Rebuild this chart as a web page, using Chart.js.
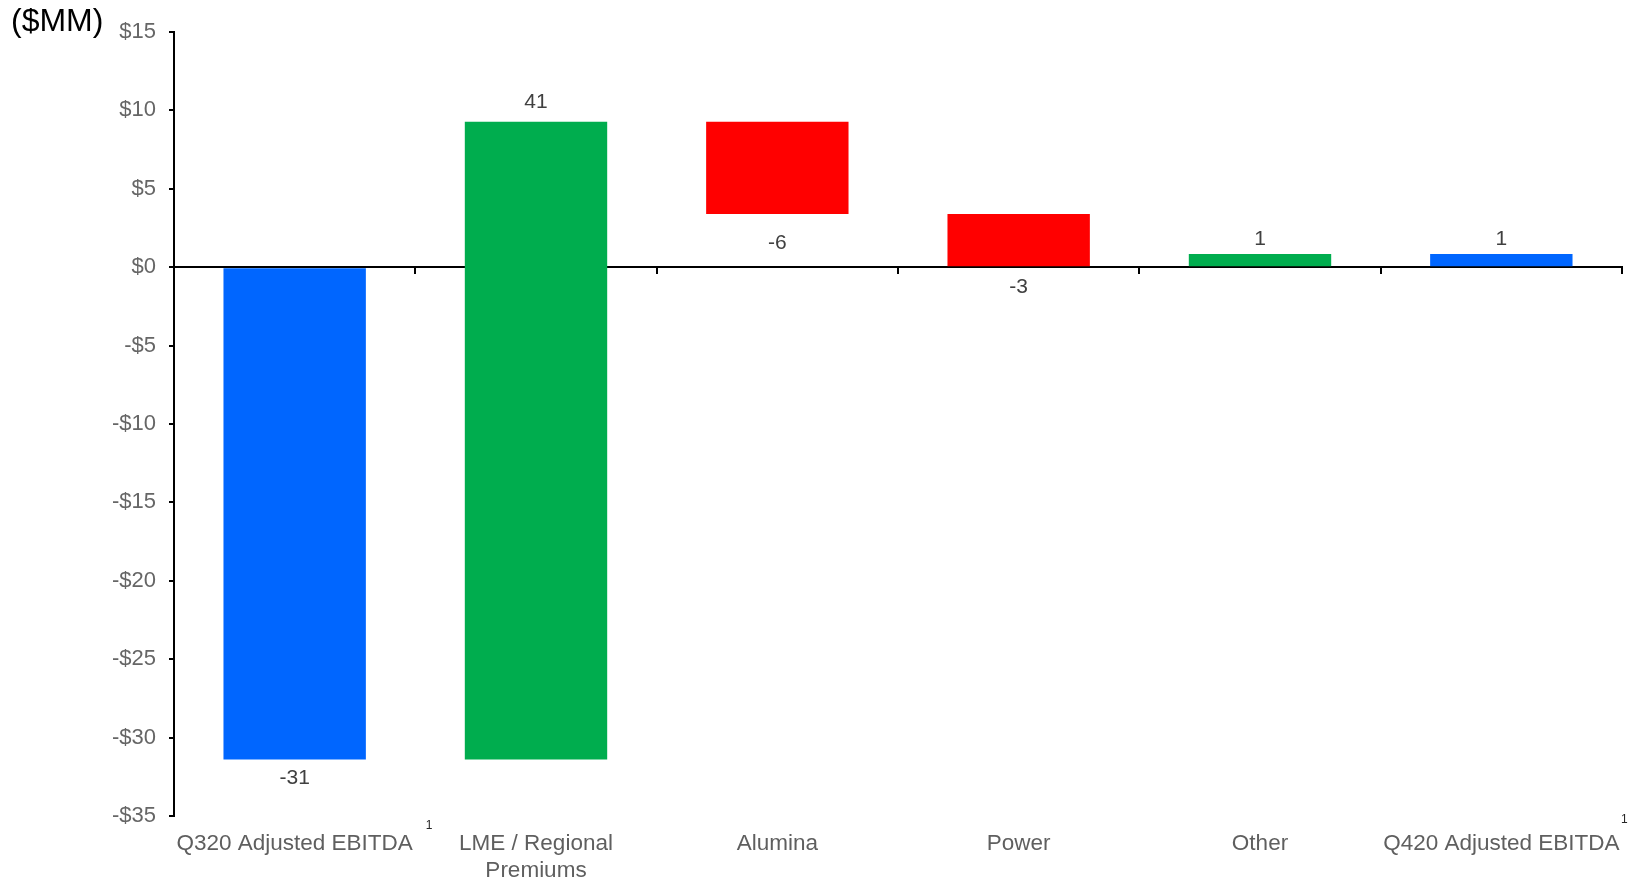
<!DOCTYPE html>
<html>
<head>
<meta charset="utf-8">
<script src="https://cdn.jsdelivr.net/npm/chart.js@4"></script>
<style>
	html, body { margin: 0; padding: 0; background: #fff; }
	#wrap { width: 1630px; height: 879px; position: relative; }
</style>
</head>
<body>
<div id="wrap"><canvas id="bridge"></canvas></div>
<script>
// ---- data
const categories = [
	'Q320 Adjusted EBITDA',
	[ 'LME / Regional', 'Premiums' ],
	'Alumina',
	'Power',
	'Other',
	'Q420 Adjusted EBITDA'
];
const barLow = [ -31.4, -31.4, 3.4, 0, 0, 0 ];
const barHigh = [ 0, 9.27, 9.27, 3.4, 0.84, 0.84 ];
const valueText = [ '-31', '41', '-6', '-3', '1', '1' ];
const footnotes = [ '1', '', '', '', '', '1' ];
const barColors = [ '#0066FF', '#00AD4E', '#FF0000', '#FF0000', '#00AD4E', '#0066FF' ];
const yTicks = { min: -35, max: 15, step: 5 };

const FONT = "'Liberation Sans', Arial, sans-serif";

// ---- value labels, footnote marks and the unit caption
const annotations = {
	id: 'annotations',
	afterDatasetsDraw( chart, args, opts ) {
		const ctx = chart.ctx;
		const y = chart.scales.y;
		const x = chart.scales.x;
		ctx.save();
		ctx.font = '21px ' + FONT;
		ctx.fillStyle = '#404040';
		ctx.textAlign = 'center';
		ctx.textBaseline = 'middle';
		valueText.forEach( ( txt, i ) => {
			const cx = x.getPixelForValue( i );
			const gap = opts.gaps[ i ];
			if ( txt.startsWith( '-' ) ) {
				ctx.fillText( txt, cx, y.getPixelForValue( barLow[ i ] ) + gap );
			} else {
				ctx.fillText( txt, cx, y.getPixelForValue( barHigh[ i ] ) - gap );
			}
		} );
		ctx.restore();
	},
	afterDraw( chart ) {
		const ctx = chart.ctx;
		const x2 = chart.scales.x2;
		ctx.save();
		// superscript marks next to category labels
		ctx.font = '22.5px ' + FONT;
		const widths = categories.map( c => ctx.measureText( Array.isArray( c ) ? c[ 0 ] : c ).width );
		ctx.font = '12px ' + FONT;
		ctx.fillStyle = '#262626';
		ctx.textAlign = 'left';
		ctx.textBaseline = 'middle';
		footnotes.forEach( ( mark, i ) => {
			if ( !mark ) {
				return;
			}
			const cx = x2.getPixelForValue( i );
			const mx = Math.min( cx + widths[ i ] / 2 + 13, chart.width - 9 );
			const my = i === 0 ? chart.chartArea.bottom + 10 : chart.chartArea.bottom + 4;
			ctx.fillText( mark, mx, my );
		} );
		// unit caption
		ctx.font = '32px ' + FONT;
		ctx.fillStyle = '#000';
		ctx.textBaseline = 'middle';
		ctx.fillText( '($MM)', 11, 22 );
		ctx.restore();
	}
};

new Chart( document.getElementById( 'bridge' ), {
	type: 'bar',
	data: {
		labels: categories,
		datasets: [ {
			data: barLow.map( ( lo, i ) => [ lo, barHigh[ i ] ] ),
			backgroundColor: barColors,
			borderWidth: 0,
			barPercentage: 0.59,
			categoryPercentage: 1
		} ]
	},
	options: {
		responsive: true,
		maintainAspectRatio: false,
		animation: false,
		layout: { padding: { top: 32, right: 8, left: 0, bottom: 0 } },
		plugins: {
			legend: { display: false },
			tooltip: { enabled: false },
			annotations: { gaps: [ 19, 19.5, 29, 20.5, 15, 15 ] }
		},
		scales: {
			// zero line with tick marks between categories
			x: {
				type: 'category',
				position: { y: 0 },
				z: 1,
				offset: true,
				border: { display: true, color: '#000', width: 2 },
				grid: {
					offset: true,
					drawOnChartArea: false,
					drawTicks: true,
					tickLength: 6,
					color: '#000',
					lineWidth: 2
				},
				ticks: { display: false }
			},
			// category labels at the bottom
			x2: {
				type: 'category',
				position: 'bottom',
				offset: true,
				border: { display: false },
				grid: { display: false, drawTicks: false },
				ticks: {
					maxRotation: 0,
					minRotation: 0,
					autoSkip: false,
					padding: 14,
					color: '#5f5f5f',
					font: { family: FONT, size: 22.5 }
				},
				afterFit( scale ) {
					scale.height = 63;
					scale.paddingLeft = 0;
					scale.paddingRight = 0;
				}
			},
			y: {
				min: yTicks.min,
				max: yTicks.max,
				border: { display: true, color: '#000', width: 2 },
				grid: {
					drawOnChartArea: false,
					drawTicks: true,
					tickLength: 5,
					color: '#000',
					lineWidth: 2
				},
				ticks: {
					stepSize: yTicks.step,
					padding: 13,
					color: '#666666',
					font: { family: FONT, size: 22 },
					callback: v => ( v < 0 ? '-$' + Math.abs( v ) : '$' + v )
				},
				afterFit( scale ) {
					scale.width = 174;
				}
			}
		}
	},
	plugins: [ annotations ]
} );
</script>
</body>
</html>
